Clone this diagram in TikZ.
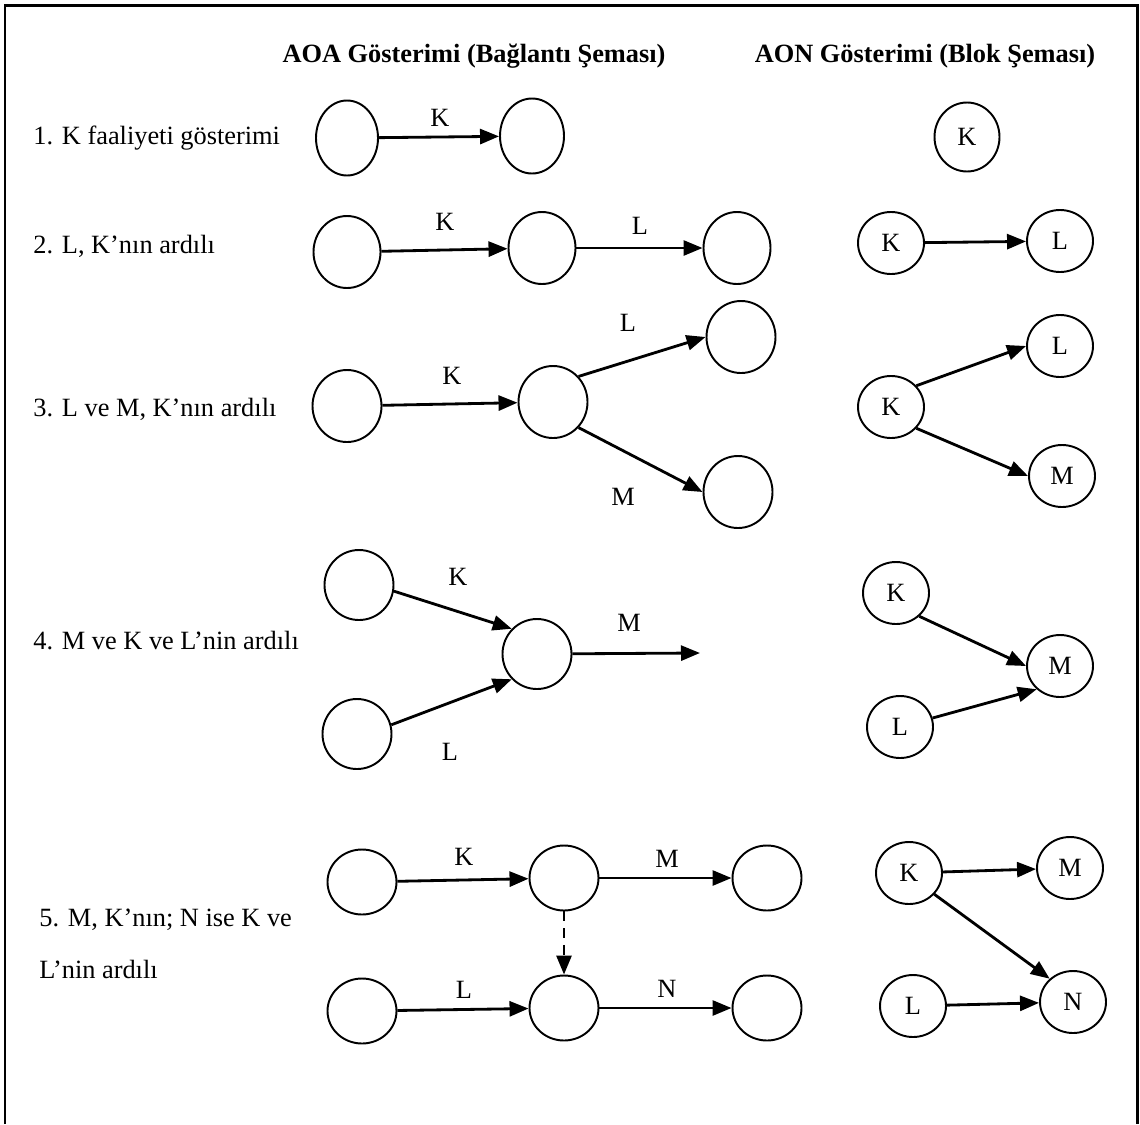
\documentclass[tikz,border=0pt]{standalone}
\usepackage{fontspec}
\setmainfont{Liberation Serif}
\usetikzlibrary{shapes.geometric,arrows.meta}

\begin{document}
\begin{tikzpicture}[
    olay/.style={draw, ellipse, line width=1.1pt, inner sep=0pt, minimum width=1.38cm, minimum height=1.44cm},
    faal/.style={draw, ellipse, line width=1.1pt, inner sep=0pt, minimum width=1.32cm, minimum height=1.24cm, font=\fontsize{15}{18}\selectfont},
    ok/.style={line width=1.6pt, -{Triangle[length=0.38cm, width=0.3cm]}},
    etk/.style={font=\fontsize{15}{18}\selectfont, inner sep=0pt},
    satir/.style={font=\fontsize{15}{18}\selectfont, inner sep=0pt, anchor=west},
    baslik/.style={font=\fontsize{15}{18}\selectfont\bfseries, inner sep=0pt}
]
    \useasboundingbox (0,0) rectangle (22.8,-22.48);
    \draw[line width=1.3pt] (0.1,-22.48) -- (0.1,-0.11) -- (22.75,-0.11) -- (22.75,-22.48);

    \node[baslik] (hAOA) at (9.48,-1.12) {AOA Gösterimi (Bağlantı Şeması)};
    \node[baslik] (hAON) at (18.5,-1.12) {AON Gösterimi (Blok Şeması)};

    % 1
    \node[satir] (s1) at (0.66,-2.76) {1. K faaliyeti gösterimi};
    \node[olay, minimum width=1.24cm, minimum height=1.5cm] (r1a) at (6.94,-2.76) {};
    \node[olay, minimum width=1.28cm, minimum height=1.5cm] (r1b) at (10.64,-2.72) {};
    \draw[ok] (r1a) -- (r1b);
    \node[etk] (t1K) at (8.8,-2.36) {K};
    \node[faal, minimum width=1.3cm, minimum height=1.38cm] (r1K) at (19.34,-2.74) {K};

    % 2
    \node[satir] (s2) at (0.66,-4.92) {2. L, K’nın ardılı};
    \node[olay, minimum width=1.34cm] (r2a) at (6.94,-5.04) {};
    \node[olay, minimum width=1.34cm] (r2b) at (10.84,-4.96) {};
    \node[olay, minimum width=1.34cm] (r2c) at (14.74,-4.96) {};
    \draw[ok] (r2a) -- (r2b);
    \draw[ok] (r2b) -- (r2c);
    \node[etk] (t2K) at (8.9,-4.44) {K};
    \node[etk] (t2L) at (12.8,-4.52) {L};
    \node[faal] (r2K) at (17.82,-4.86) {K};
    \node[faal] (r2L) at (21.2,-4.82) {L};
    \draw[ok] (r2K) -- (r2L);

    % 3
    \node[satir] (s3) at (0.66,-8.18) {3. L ve M, K’nın ardılı};
    \node[olay] (r3a) at (6.94,-8.12) {};
    \node[olay] (r3b) at (11.06,-8.04) {};
    \node[olay] (r3c) at (14.82,-6.74) {};
    \node[olay] (r3d) at (14.76,-9.84) {};
    \draw[ok] (r3a) -- (r3b);
    \draw[ok] (r3b.45) -- (r3c.west);
    \draw[ok] (r3b.-45) -- (r3d.west);
    \node[etk] (t3K) at (9.04,-7.52) {K};
    \node[etk] (t3L) at (12.56,-6.46) {L};
    \node[etk] (t3M) at (12.46,-9.94) {M};
    \node[faal] (r3K) at (17.82,-8.14) {K};
    \node[faal] (r3L) at (21.2,-6.92) {L};
    \node[faal] (r3M) at (21.24,-9.52) {M};
    \draw[ok] (r3K.40) -- (r3L.west);
    \draw[ok] (r3K.-40) -- (r3M.west);

    % 4
    \node[satir] (s4) at (0.66,-12.82) {4. M ve K ve L’nin ardılı};
    \node[olay, minimum height=1.4cm] (r4a) at (7.18,-11.7) {};
    \node[olay, minimum height=1.4cm] (r4b) at (7.14,-14.68) {};
    \node[olay, minimum height=1.4cm] (r4c) at (10.74,-13.08) {};
    \coordinate (r4uc) at (14.0,-13.06);
    \draw[ok] (r4a.-10) -- (r4c.135);
    \draw[ok] (r4b.15) -- (r4c.225);
    \draw[ok] (r4c) -- (r4uc);
    \node[etk] (t4K) at (9.16,-11.54) {K};
    \node[etk] (t4M) at (12.58,-12.46) {M};
    \node[etk] (t4L) at (9.0,-15.04) {L};
    \node[faal] (r4K) at (17.92,-11.86) {K};
    \node[faal] (r4L) at (18.0,-14.54) {L};
    \node[faal] (r4M) at (21.2,-13.32) {M};
    \draw[ok] (r4K.-45) -- (r4M.west);
    \draw[ok] (r4L) -- (r4M.225);

    % 5
    \node[satir, align=left, font=\fontsize{15}{29.5}\selectfont] (s5) at (0.78,-18.88) {5. M, K’nın; N ise K ve\\L’nin ardılı};
    \node[olay, minimum height=1.3cm] (r5a) at (7.24,-17.64) {};
    \node[olay, minimum height=1.3cm] (r5b) at (11.28,-17.56) {};
    \node[olay, minimum height=1.3cm] (r5c) at (15.34,-17.56) {};
    \node[olay, minimum height=1.3cm] (r5d) at (7.24,-20.22) {};
    \node[olay, minimum height=1.3cm] (r5e) at (11.28,-20.16) {};
    \node[olay, minimum height=1.3cm] (r5f) at (15.34,-20.16) {};
    \draw[ok] (r5a) -- (r5b);
    \draw[ok] (r5b) -- (r5c);
    \draw[ok] (r5d) -- (r5e);
    \draw[ok] (r5e) -- (r5f);
    \draw[ok, dash pattern=on 5.5pt off 4pt] (r5b) -- (r5e);
    \node[etk] (t5K) at (9.28,-17.14) {K};
    \node[etk] (t5M) at (13.34,-17.18) {M};
    \node[etk] (t5L) at (9.28,-19.8) {L};
    \node[etk] (t5N) at (13.34,-19.78) {N};
    \node[faal] (r5K) at (18.18,-17.46) {K};
    \node[faal] (r5M) at (21.4,-17.36) {M};
    \node[faal] (r5L) at (18.26,-20.12) {L};
    \node[faal] (r5N) at (21.46,-20.04) {N};
    \draw[ok] (r5K) -- (r5M);
    \draw[ok] (r5K.-40) -- (r5N.135);
    \draw[ok] (r5L) -- (r5N);
\end{tikzpicture}
\end{document}
